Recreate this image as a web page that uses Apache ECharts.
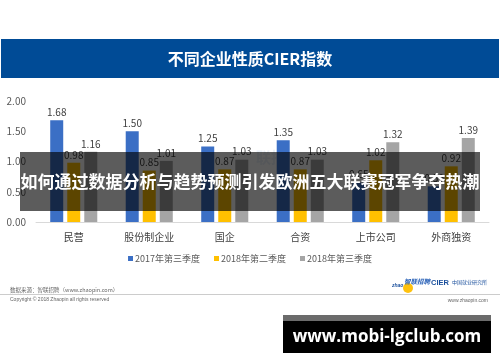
<!DOCTYPE html>
<html>
<head>
<meta charset="utf-8">
<script src="https://cdn.jsdelivr.net/npm/echarts@6/dist/echarts.min.js"></script>
<style>
html,body{margin:0;padding:0;background:#fff;}
#c{width:500px;height:362px;}
</style>
</head>
<body>
<div id="c"></div>
<script>
const categories = ['民营', '股份制企业', '国企', '合资', '上市公司', '外商独资'];
const seriesNames = ['2017年第三季度', '2018年第二季度', '2018年第三季度'];
const s2017Q3 = [1.68, 1.50, 1.25, 1.35, 0.65, 0.59];
const s2018Q2 = [0.98, 0.85, 0.87, 0.87, 1.02, 0.92];
const s2018Q3 = [1.16, 1.01, 1.03, 1.03, 1.32, 1.39];
const yTicks = [0, 0.5, 1, 1.5, 2];

const colors = ['#3b6fc5', '#ffc000', '#a5a5a5'];
const FONT = '"Noto Sans CJK SC", "Noto Sans", sans-serif';

const chart = echarts.init(document.getElementById('c'), null, {renderer: 'canvas'});

function mkSeries(name, data, color) {
  return {
    name: name,
    type: 'bar',
    data: data,
    barWidth: 13,
    barGap: '31%',
    itemStyle: {color: color},
    label: {
      show: true,
      position: 'top',
      distance: 3,
      fontSize: 10,
      color: '#404040',
      fontFamily: FONT,
      formatter: p => p.value.toFixed(2)
    }
  };
}

const option = {
  backgroundColor: '#ffffff',
  animation: false,
  color: colors,
  grid: {left: 36, right: 11, top: 101, bottom: 140, containLabel: false},
  legend: {
    top: 249,
    left: 'center',
    icon: 'rect',
    itemWidth: 5,
    itemHeight: 5,
    itemGap: 14,
    textStyle: {fontSize: 9, color: '#595959', fontFamily: FONT, padding: [0, 0, 0, -3]},
    data: seriesNames
  },
  xAxis: {
    type: 'category',
    data: categories,
    axisLine: {show: true, lineStyle: {color: '#d9d9d9', width: 1}},
    axisTick: {show: false},
    axisLabel: {fontSize: 10, color: '#404040', margin: 10, fontFamily: FONT}
  },
  yAxis: {
    type: 'value',
    min: yTicks[0],
    max: yTicks[yTicks.length - 1],
    interval: 0.5,
    splitLine: {show: false},
    axisLine: {show: false},
    axisTick: {show: false},
    axisLabel: {fontSize: 10, color: '#595959', margin: 10, fontFamily: FONT, formatter: v => v.toFixed(2)}
  },
  series: [
    mkSeries(seriesNames[0], s2017Q3, colors[0]),
    mkSeries(seriesNames[1], s2018Q2, colors[1]),
    mkSeries(seriesNames[2], s2018Q3, colors[2])
  ],
  graphic: [
    // header bar
    {type: 'rect', left: 1, top: 39, shape: {width: 498, height: 39}, style: {fill: '#004b96'}, z: 10},
    {type: 'text', left: 'center', top: 51, style: {text: '不同企业性质CIER指数', fill: '#ffffff', font: 'bold 16px ' + FONT}, z: 11},
    // faint watermark
    {type: 'text', left: 256, top: 150, style: {text: '联招', fill: 'rgba(120,160,210,0.15)', font: 'bold 15px ' + FONT}, z: 1},
    // footer
    {type: 'text', left: 10, top: 287, style: {text: '数据来源：智联招聘（www.zhaopin.com）', fill: '#666666', font: '5.5px ' + FONT}, z: 10},
    {type: 'rect', left: 0, top: 294, shape: {width: 500, height: 1}, style: {fill: '#cccccc'}, z: 10},
    {type: 'text', left: 10, top: 297, style: {text: 'Copyright © 2018 Zhaopin all rights reserved', fill: '#666666', font: '5px "Liberation Sans", sans-serif'}, z: 10},
    {type: 'text', right: 12, top: 298, style: {text: 'www.zhaopin.com', fill: '#666666', font: '5px "Liberation Sans", sans-serif'}, z: 10},
    // logo
    {type: 'circle', shape: {cx: 408, cy: 288, r: 5}, style: {fill: '#ffc20e'}, z: 10},
    {type: 'text', left: 392, top: 283, style: {text: 'zhao', fill: '#1a4f9c', font: 'italic bold 5px "Liberation Sans", sans-serif'}, z: 11},
    {type: 'text', left: 404, top: 278, style: {text: '智联招聘', fill: '#2a62b8', font: 'italic bold 6.5px ' + FONT}, z: 11},
    {type: 'text', left: 431, top: 279, style: {text: 'CIER', fill: '#1a4f9c', font: 'bold 7.5px "Liberation Sans", sans-serif'}, z: 11},
    {type: 'text', left: 452, top: 280, style: {text: '中国就业研究所', fill: '#1a4f9c', font: '5px ' + FONT}, z: 11},
    // dark overlay band
    {type: 'rect', left: 20, top: 152, shape: {width: 460, height: 59}, style: {fill: 'rgba(0,0,0,0.64)'}, z: 100},
    {type: 'text', left: 'center', top: 173, style: {text: '如何通过数据分析与趋势预测引发欧洲五大联赛冠军争夺热潮', fill: '#ffffff', font: 'bold 17px ' + FONT}, z: 101},
    // bottom black box
    {type: 'rect', left: 283, top: 315, shape: {width: 208, height: 38}, style: {fill: '#000000'}, z: 100},
    {type: 'rect', left: 283, top: 315, shape: {width: 208, height: 6}, style: {fill: '#6b6b6b'}, z: 101},
    {type: 'text', x: 387, y: 337, style: {text: 'www.mobi-lgclub.com', fill: '#ffffff', font: 'bold 17px "Open Sans", "DejaVu Sans", sans-serif', textAlign: 'center', textVerticalAlign: 'middle'}, z: 101}
  ]
};
chart.setOption(option);
</script>
</body>
</html>
